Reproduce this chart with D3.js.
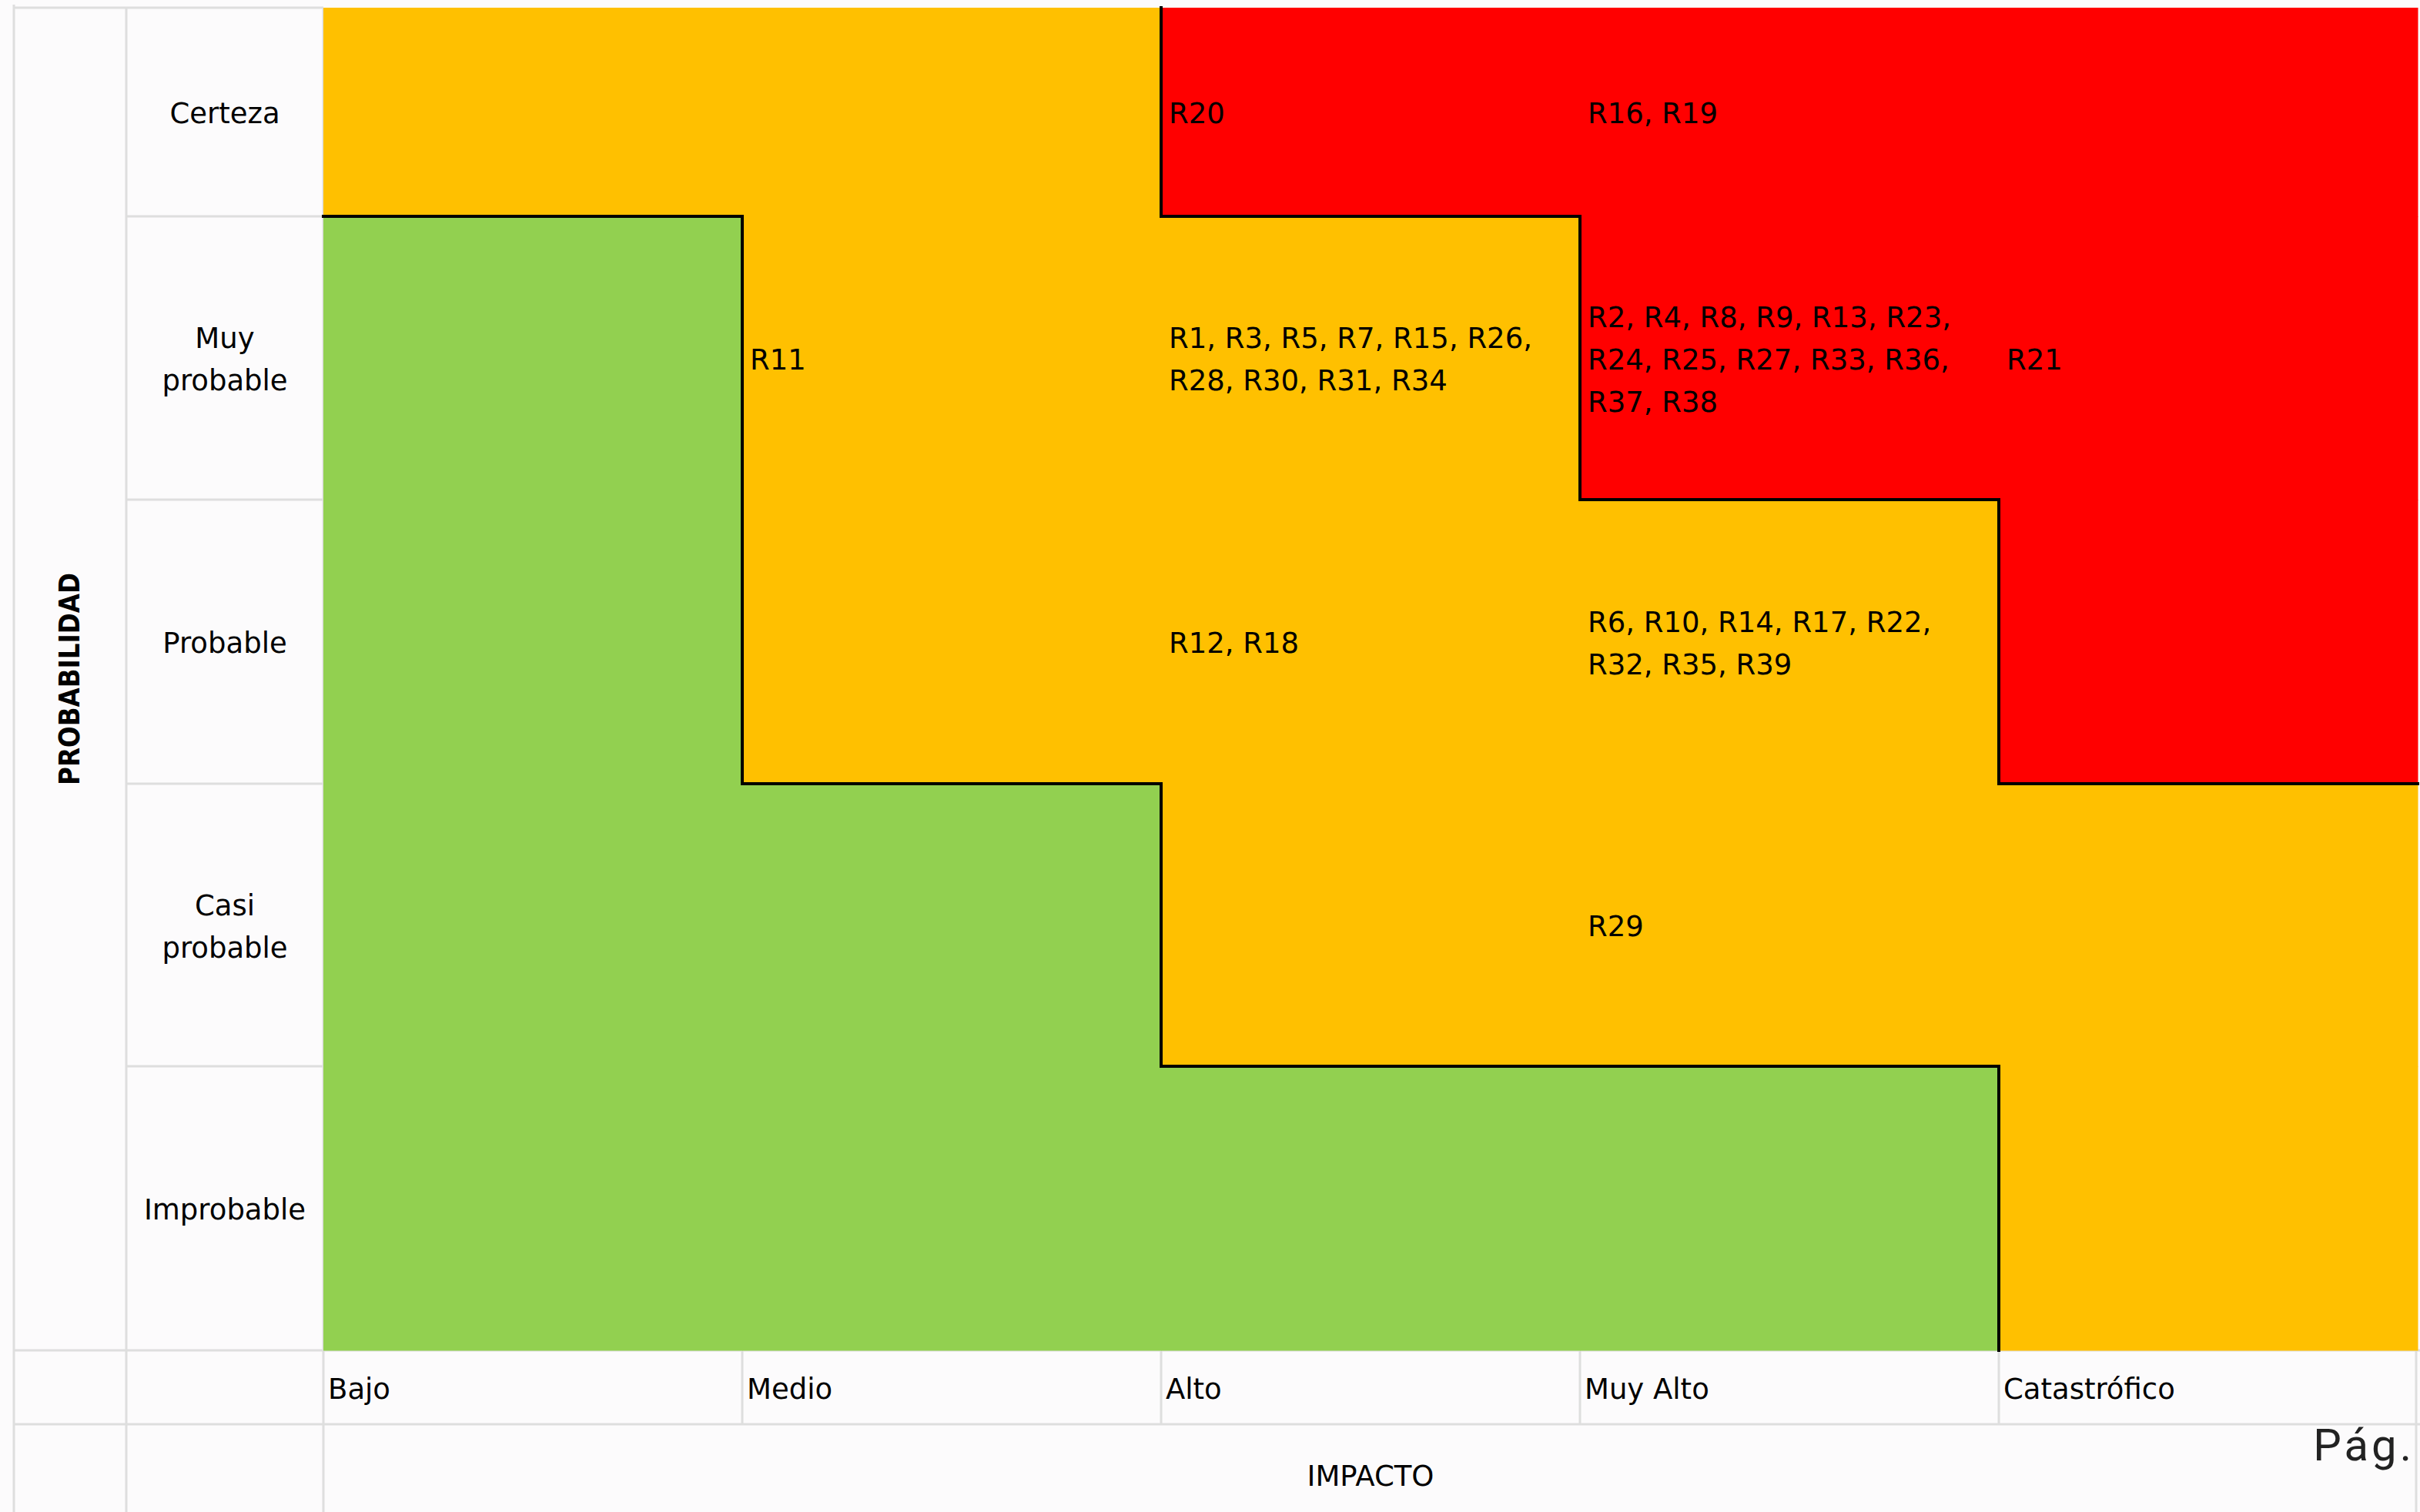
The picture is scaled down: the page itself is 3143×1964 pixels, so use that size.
<!DOCTYPE html>
<html>
<head>
<meta charset="utf-8">
<script src="https://cdn.jsdelivr.net/npm/d3@7"></script>
<style>
  body { margin: 0; background: #fcfbfc; }
  svg { display: block; }
  .cell-text { font-family: "DejaVu Sans", sans-serif; font-size: 37px; fill: #000; }
</style>
</head>
<body>
<div id="chart"></div>
<script>
// categories (probability rows go top to bottom)
const impactLabels = ['Bajo', 'Medio', 'Alto', 'Muy Alto', 'Catastrófico'];
const probLabels = [['Certeza'], ['Muy', 'probable'], ['Probable'], ['Casi', 'probable'], ['Improbable']];
const probNames = ['Certeza', 'Muy probable', 'Probable', 'Casi probable', 'Improbable'];

// risk level of each cell, row by row (A = alto, M = medio, B = bajo)
const levelGrid = [
  ['M', 'M', 'A', 'A', 'A'],
  ['B', 'M', 'M', 'A', 'A'],
  ['B', 'M', 'M', 'M', 'A'],
  ['B', 'B', 'M', 'M', 'M'],
  ['B', 'B', 'B', 'B', 'M']
];

// risks: [id, probability, impact]
const risks = [
  ['R1', 'Muy probable', 'Alto'], ['R2', 'Muy probable', 'Muy Alto'], ['R3', 'Muy probable', 'Alto'],
  ['R4', 'Muy probable', 'Muy Alto'], ['R5', 'Muy probable', 'Alto'], ['R6', 'Probable', 'Muy Alto'],
  ['R7', 'Muy probable', 'Alto'], ['R8', 'Muy probable', 'Muy Alto'], ['R9', 'Muy probable', 'Muy Alto'],
  ['R10', 'Probable', 'Muy Alto'], ['R11', 'Muy probable', 'Medio'], ['R12', 'Probable', 'Alto'],
  ['R13', 'Muy probable', 'Muy Alto'], ['R14', 'Probable', 'Muy Alto'], ['R15', 'Muy probable', 'Alto'],
  ['R16', 'Certeza', 'Muy Alto'], ['R17', 'Probable', 'Muy Alto'], ['R18', 'Probable', 'Alto'],
  ['R19', 'Certeza', 'Muy Alto'], ['R20', 'Certeza', 'Alto'], ['R21', 'Muy probable', 'Catastrófico'],
  ['R22', 'Probable', 'Muy Alto'], ['R23', 'Muy probable', 'Muy Alto'], ['R24', 'Muy probable', 'Muy Alto'],
  ['R25', 'Muy probable', 'Muy Alto'], ['R26', 'Muy probable', 'Alto'], ['R27', 'Muy probable', 'Muy Alto'],
  ['R28', 'Muy probable', 'Alto'], ['R29', 'Casi probable', 'Muy Alto'], ['R30', 'Muy probable', 'Alto'],
  ['R31', 'Muy probable', 'Alto'], ['R32', 'Probable', 'Muy Alto'], ['R33', 'Muy probable', 'Muy Alto'],
  ['R34', 'Muy probable', 'Alto'], ['R35', 'Probable', 'Muy Alto'], ['R36', 'Muy probable', 'Muy Alto'],
  ['R37', 'Muy probable', 'Muy Alto'], ['R38', 'Muy probable', 'Muy Alto'], ['R39', 'Probable', 'Muy Alto']
];

class RiskMatrix {

  constructor(_config) {
    this.config = {
      parentElement: _config.parentElement,
      containerWidth: 3143,
      containerHeight: 1964,
      outerLeft: 18,
      labelLeft: 164,
      gridLeft: 420,
      gridRight: 3140,
      gridTop: 10,
      rowBreaks: [10, 281, 649, 1018, 1385, 1754],
      axisRowBottom: 1850,
      fontSize: 37,
      lineHeight: 55,
      padding: 10
    };
    this.initVis();
  }

  initVis() {
    let vis = this;
    const c = vis.config;

    vis.colorScale = d3.scaleOrdinal()
        .domain(['A', 'M', 'B'])
        .range(['#ff0000', '#ffc000', '#92d050']);

    vis.xScale = d3.scaleBand()
        .domain(impactLabels)
        .range([c.gridLeft, c.gridRight]);

    // row tops; first row is shorter, so a piecewise scale over row index
    vis.yScale = d3.scaleLinear()
        .domain(d3.range(probNames.length + 1))
        .range(c.rowBreaks);

    vis.svg = d3.select(c.parentElement).append('svg')
        .attr('width', c.containerWidth)
        .attr('height', c.containerHeight);

    vis.svg.append('rect')
        .attr('width', c.containerWidth)
        .attr('height', c.containerHeight)
        .attr('fill', '#fcfbfc');

    vis.gridG = vis.svg.append('g').attr('class', 'gridlines');
    vis.cellG = vis.svg.append('g').attr('class', 'cells');
    vis.borderG = vis.svg.append('g').attr('class', 'borders');
    vis.textG = vis.svg.append('g').attr('class', 'labels');

    vis.renderVis();
  }

  renderVis() {
    let vis = this;
    const c = vis.config;
    const yBottom = c.rowBreaks[c.rowBreaks.length - 1];
    const bw = vis.xScale.bandwidth();

    // light spreadsheet gridlines
    const grid = [
      [c.outerLeft, 6, c.outerLeft, c.containerHeight],
      [c.labelLeft, c.gridTop, c.labelLeft, c.containerHeight],
      [c.gridLeft, c.gridTop, c.gridLeft, c.containerHeight],
      [c.outerLeft, c.gridTop, c.gridLeft, c.gridTop],
      [c.outerLeft, yBottom, c.containerWidth, yBottom],
      [c.outerLeft, c.axisRowBottom, c.containerWidth, c.axisRowBottom],
      [c.gridRight - 2, yBottom, c.gridRight - 2, c.containerHeight]
    ];
    d3.range(1, probNames.length).forEach(i => {
      grid.push([c.labelLeft, vis.yScale(i), c.gridLeft, vis.yScale(i)]);
    });
    impactLabels.slice(1).forEach(d => {
      grid.push([vis.xScale(d), yBottom, vis.xScale(d), c.axisRowBottom]);
    });

    vis.gridG.selectAll('line')
      .data(grid)
      .join('line')
        .attr('x1', d => d[0]).attr('y1', d => d[1])
        .attr('x2', d => d[2]).attr('y2', d => d[3])
        .attr('stroke', '#dedede')
        .attr('stroke-width', 3);

    // coloured cells
    const cells = [];
    levelGrid.forEach((row, r) => row.forEach((lv, k) => cells.push({r, k, lv})));

    vis.cellG.selectAll('rect')
      .data(cells)
      .join('rect')
        .attr('x', d => vis.xScale(impactLabels[d.k]))
        .attr('y', d => vis.yScale(d.r))
        .attr('width', bw + 0.5)
        .attr('height', d => vis.yScale(d.r + 1) - vis.yScale(d.r) + 0.5)
        .attr('fill', d => vis.colorScale(d.lv));

    // black lines wherever the level changes between neighbours
    const edges = [];
    cells.forEach(d => {
      const x0 = vis.xScale(impactLabels[d.k]);
      const y0 = vis.yScale(d.r), y1 = vis.yScale(d.r + 1);
      if (d.r > 0 && levelGrid[d.r - 1][d.k] !== d.lv) edges.push([x0, y0, x0 + bw, y0]);
      if (d.k > 0 && levelGrid[d.r][d.k - 1] !== d.lv) edges.push([x0, y0, x0, y1]);
    });

    vis.borderG.selectAll('line')
      .data(edges)
      .join('line')
        .attr('x1', d => d[0]).attr('y1', d => d[1])
        .attr('x2', d => d[2]).attr('y2', d => d[3])
        .attr('stroke', '#000')
        .attr('stroke-width', 4)
        .attr('stroke-linecap', 'square');

    const baseShift = c.fontSize * 0.4;

    // probability row labels
    vis.textG.selectAll('.row-label')
      .data(probLabels)
      .join('text')
        .attr('class', 'row-label cell-text')
        .attr('text-anchor', 'middle')
        .each(function(lines, i) {
          const cy = (vis.yScale(i) + vis.yScale(i + 1)) / 2;
          const first = cy - (lines.length - 1) / 2 * c.lineHeight + baseShift;
          d3.select(this).selectAll('tspan')
            .data(lines)
            .join('tspan')
              .attr('x', (c.labelLeft + c.gridLeft) / 2)
              .attr('y', (d, j) => first + j * c.lineHeight)
              .text(d => d);
        });

    // impact labels
    vis.textG.selectAll('.col-label')
      .data(impactLabels)
      .join('text')
        .attr('class', 'col-label cell-text')
        .attr('x', d => vis.xScale(d) + 6)
        .attr('y', (yBottom + c.axisRowBottom) / 2 + baseShift)
        .text(d => d);

    // risk ids per cell, wrapped to cell width
    const grouped = d3.rollups(risks, v => v.map(d => d[0]).join(', '),
        d => probNames.indexOf(d[1]), d => d[2]);
    const cellTexts = [];
    grouped.forEach(([r, cols]) => cols.forEach(([imp, txt]) => cellTexts.push({r, imp, txt})));

    vis.textG.selectAll('.risk')
      .data(cellTexts)
      .join('text')
        .attr('class', 'risk cell-text')
        .each(function(d) {
          const el = d3.select(this);
          const x = vis.xScale(d.imp) + c.padding;
          const maxW = bw - 2 * c.padding - 6;
          const words = d.txt.split(' ');
          const lines = [];
          let cur = '';
          const probe = el.append('tspan');
          words.forEach(w => {
            const test = cur ? cur + ' ' + w : w;
            probe.text(test);
            if (probe.node().getComputedTextLength() > maxW && cur) {
              lines.push(cur);
              cur = w;
            } else {
              cur = test;
            }
          });
          lines.push(cur);
          probe.remove();
          const cy = (vis.yScale(d.r) + vis.yScale(d.r + 1)) / 2;
          const first = cy - (lines.length - 1) / 2 * c.lineHeight + baseShift;
          el.selectAll('tspan')
            .data(lines)
            .join('tspan')
              .attr('x', x)
              .attr('y', (t, j) => first + j * c.lineHeight)
              .text(t => t);
        });

    // axis titles
    vis.textG.append('text')
        .attr('class', 'cell-text')
        .attr('text-anchor', 'middle')
        .attr('transform', `translate(${(c.outerLeft + c.labelLeft) / 2 + 12},${(c.gridTop + yBottom) / 2}) rotate(-90)`)
        .attr('font-weight', 'bold')
        .attr('font-size', 30)
        .attr('textLength', 276)
        .attr('lengthAdjust', 'spacingAndGlyphs')
        .text('PROBABILIDAD');

    vis.textG.append('text')
        .attr('class', 'cell-text')
        .attr('text-anchor', 'middle')
        .attr('x', (c.gridLeft + c.gridRight) / 2)
        .attr('y', c.axisRowBottom + 80)
        .text('IMPACTO');

    vis.svg.append('text')
        .attr('x', 3136)
        .attr('y', 1897)
        .attr('text-anchor', 'end')
        .attr('font-family', 'Roboto, sans-serif')
        .attr('font-size', 58)
        .attr('letter-spacing', 4)
        .attr('fill', '#222')
        .text('Pág.');
  }
}

new RiskMatrix({ parentElement: '#chart' });
</script>
</body>
</html>
